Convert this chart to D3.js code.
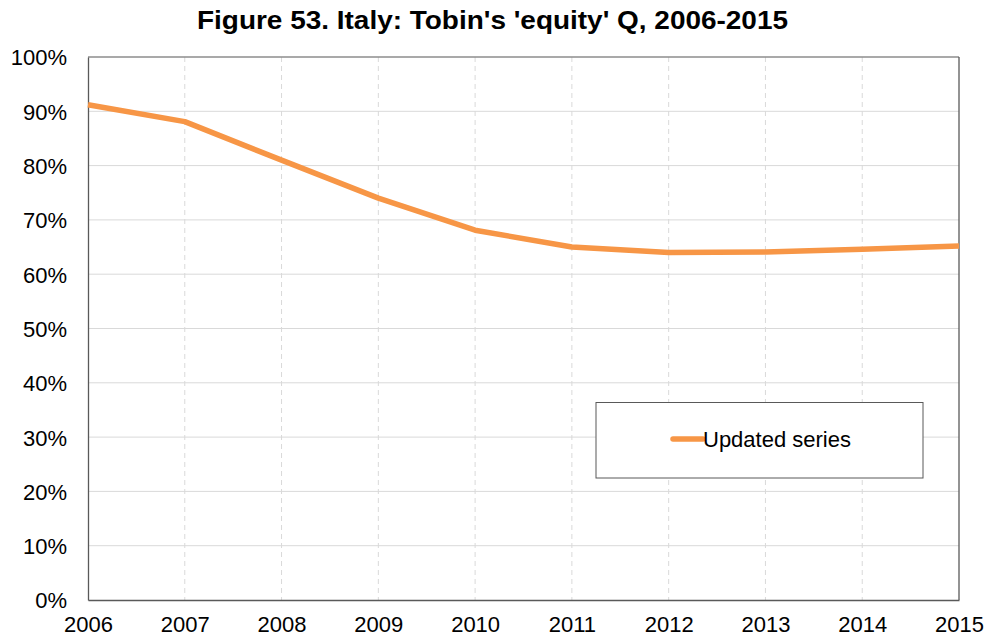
<!DOCTYPE html>
<html>
<head>
<meta charset="utf-8">
<script src="https://cdn.jsdelivr.net/npm/d3@7"></script>
<style>
  html, body { margin: 0; padding: 0; background: #ffffff; }
  svg { display: block; font-family: "Liberation Sans", Arial, sans-serif; }
</style>
</head>
<body>
<svg id="chart" width="987" height="641"></svg>
<script>
// Tobin's 'equity' Q for Italy, share of 100%
const years = [2006, 2007, 2008, 2009, 2010, 2011, 2012, 2013, 2014, 2015];
const updatedSeries = [91.2, 88.1, 81.0, 74.0, 68.1, 65.0, 64.0, 64.1, 64.6, 65.2];
const yTicks = [0, 10, 20, 30, 40, 50, 60, 70, 80, 90, 100];
const titleText = "Figure 53. Italy: Tobin's 'equity' Q, 2006-2015";
const seriesName = "Updated series";

const svg = d3.select("#chart");
const plot = { left: 88, right: 959, top: 57, bottom: 600 };

const x = d3.scaleLinear().domain([years[0], years[years.length - 1]]).range([plot.left, plot.right]);
const y = d3.scaleLinear().domain([0, 100]).range([plot.bottom, plot.top]);

// Title
svg.append("text")
  .attr("x", 492.5).attr("y", 29)
  .attr("text-anchor", "middle")
  .attr("font-family", "'Liberation Sans Narrow', 'Liberation Sans', Arial, sans-serif")
  .attr("font-size", 26).attr("font-weight", "bold")
  .attr("fill", "#000")
  .attr("textLength", 591).attr("lengthAdjust", "spacingAndGlyphs")
  .text(titleText);

// Horizontal gridlines
svg.append("g")
  .selectAll("line")
  .data(yTicks.filter(d => d > 0 && d < 100))
  .join("line")
  .attr("x1", plot.left).attr("x2", plot.right)
  .attr("y1", d => y(d)).attr("y2", d => y(d))
  .attr("stroke", "#d9d9d9").attr("stroke-width", 1);

// Vertical dashed gridlines
svg.append("g")
  .selectAll("line")
  .data(years.slice(1, -1))
  .join("line")
  .attr("x1", d => x(d)).attr("x2", d => x(d))
  .attr("y1", plot.top).attr("y2", plot.bottom)
  .attr("stroke", "#d9d9d9").attr("stroke-width", 1)
  .attr("stroke-dasharray", "5,4");

// Plot area frame
svg.append("line")
  .attr("x1", plot.left).attr("x2", plot.right)
  .attr("y1", plot.top).attr("y2", plot.top)
  .attr("stroke", "#8c8c8c").attr("stroke-width", 1.3);
svg.append("line")
  .attr("x1", plot.right).attr("x2", plot.right)
  .attr("y1", plot.top).attr("y2", plot.bottom)
  .attr("stroke", "#595959").attr("stroke-width", 1.3);

// Axes
const yAxis = d3.axisLeft(y).tickValues(yTicks).tickFormat(d => d + "%").tickSize(0).tickPadding(21);
const gy = svg.append("g").attr("transform", `translate(${plot.left},0)`).call(yAxis);
gy.select(".domain").attr("stroke", "#595959").attr("stroke-width", 1.3);
gy.selectAll("text").attr("font-size", 22).attr("fill", "#000")
  .attr("font-family", "'Liberation Sans', Arial, sans-serif").attr("dy", "0.36em");

const xAxis = d3.axisBottom(x).tickValues(years).tickFormat(d3.format("d")).tickSize(0).tickPadding(16);
const gx = svg.append("g").attr("transform", `translate(0,${plot.bottom})`).call(xAxis);
gx.select(".domain").attr("stroke", "#595959").attr("stroke-width", 1.3);
gx.selectAll("text").attr("font-size", 22).attr("fill", "#000")
  .attr("font-family", "'Liberation Sans', Arial, sans-serif");

// Series line
const line = d3.line()
  .x((d, i) => x(years[i]))
  .y(d => y(d));

svg.append("path")
  .datum(updatedSeries)
  .attr("d", line)
  .attr("fill", "none")
  .attr("stroke", "#f79646")
  .attr("stroke-width", 5.5)
  .attr("stroke-linejoin", "round");

// Legend
const legend = svg.append("g");
legend.append("rect")
  .attr("x", 596).attr("y", 402.5).attr("width", 327).attr("height", 75.5)
  .attr("fill", "#fff").attr("stroke", "#595959").attr("stroke-width", 1);
legend.append("line")
  .attr("x1", 673).attr("x2", 703).attr("y1", 439).attr("y2", 439)
  .attr("stroke", "#f79646").attr("stroke-width", 5.5).attr("stroke-linecap", "round");
legend.append("text")
  .attr("x", 703).attr("y", 447)
  .attr("font-size", 22).attr("fill", "#000")
  .text(seriesName);
</script>
</body>
</html>
